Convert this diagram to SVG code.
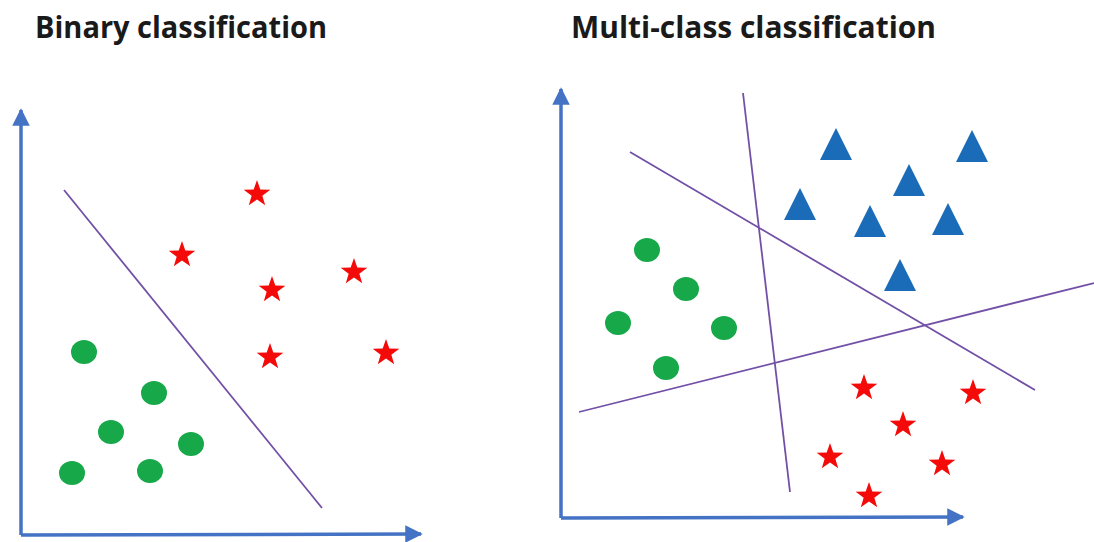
<svg xmlns="http://www.w3.org/2000/svg" xmlns:xlink="http://www.w3.org/1999/xlink" width="1094" height="542" viewBox="0 0 1094 542">
<style>
.title{font-family:"Open Sans","Liberation Sans",sans-serif;font-weight:bold;font-size:30px;fill:#1a1a1a}
.axis{stroke:#4472C4;stroke-width:3.5;fill:none}
.sep{stroke:#7250A6;stroke-width:1.8;fill:none}
.dot{fill:#17A84A}
.star{fill:#F50A0A}
.tri{fill:#1A6BB8}
</style>
<defs>
<marker id="arr" viewBox="0 0 10 10" refX="9" refY="5" markerWidth="5" markerHeight="5" markerUnits="strokeWidth" orient="auto">
<path d="M0,0 L10,5 L0,10 Z" fill="#4472C4"/>
</marker>
<path id="st" d="M0,-14 L3.3,-4.53 L13.31,-4.33 L5.33,1.73 L8.23,11.33 L0,5.6 L-8.23,11.33 L-5.33,1.73 L-13.31,-4.33 L-3.3,-4.53 Z"/>
<path id="tr" d="M0,-16 L16,16 L-16,16 Z"/>
</defs>
<rect width="1094" height="542" fill="#ffffff"/>
<text class="title" x="35" y="38" textLength="292" lengthAdjust="spacingAndGlyphs">Binary classification</text>
<text class="title" x="571" y="38" textLength="365" lengthAdjust="spacingAndGlyphs">Multi-class classification</text>
<g id="connectors">
<path class="axis" d="M21,535 L21,110" marker-end="url(#arr)"/>
<path class="axis" d="M21,535 L421,534" marker-end="url(#arr)"/>
<path class="sep" d="M64,190 L322,508"/>
<path class="axis" d="M561,518 L561,89" marker-end="url(#arr)"/>
<path class="axis" d="M561,518 L963,517" marker-end="url(#arr)"/>
<path class="sep" d="M630,152 L1035,390"/>
<path class="sep" d="M743,93 L790,492"/>
<path class="sep" d="M579,412 L1094,283"/>
</g>
<g id="binary-dots">
<ellipse class="dot" cx="84" cy="352" rx="13" ry="12"/>
<ellipse class="dot" cx="154" cy="393" rx="13" ry="12"/>
<ellipse class="dot" cx="111" cy="432" rx="13" ry="12"/>
<ellipse class="dot" cx="191" cy="444" rx="13" ry="12"/>
<ellipse class="dot" cx="72" cy="473" rx="13" ry="12"/>
<ellipse class="dot" cx="150" cy="471" rx="13" ry="12"/>
</g>
<g id="binary-stars" class="star">
<use xlink:href="#st" href="#st" x="257" y="194"/>
<use xlink:href="#st" href="#st" x="182" y="255"/>
<use xlink:href="#st" href="#st" x="272" y="290"/>
<use xlink:href="#st" href="#st" x="354" y="272"/>
<use xlink:href="#st" href="#st" x="270" y="357"/>
<use xlink:href="#st" href="#st" x="386" y="353"/>
</g>
<g id="multi-dots">
<ellipse class="dot" cx="647" cy="250" rx="13" ry="12"/>
<ellipse class="dot" cx="686" cy="289" rx="13" ry="12"/>
<ellipse class="dot" cx="618" cy="323" rx="13" ry="12"/>
<ellipse class="dot" cx="724" cy="328" rx="13" ry="12"/>
<ellipse class="dot" cx="666" cy="368" rx="13" ry="12"/>
</g>
<g id="multi-triangles" class="tri">
<use xlink:href="#tr" href="#tr" x="836" y="144"/>
<use xlink:href="#tr" href="#tr" x="972" y="146"/>
<use xlink:href="#tr" href="#tr" x="909" y="180"/>
<use xlink:href="#tr" href="#tr" x="800" y="204"/>
<use xlink:href="#tr" href="#tr" x="870" y="221"/>
<use xlink:href="#tr" href="#tr" x="948" y="219"/>
<use xlink:href="#tr" href="#tr" x="900" y="275"/>
</g>
<g id="multi-stars" class="star">
<use xlink:href="#st" href="#st" x="864" y="388"/>
<use xlink:href="#st" href="#st" x="973" y="393"/>
<use xlink:href="#st" href="#st" x="903" y="425"/>
<use xlink:href="#st" href="#st" x="830" y="457"/>
<use xlink:href="#st" href="#st" x="942" y="464"/>
<use xlink:href="#st" href="#st" x="869" y="496"/>
</g>
</svg>
